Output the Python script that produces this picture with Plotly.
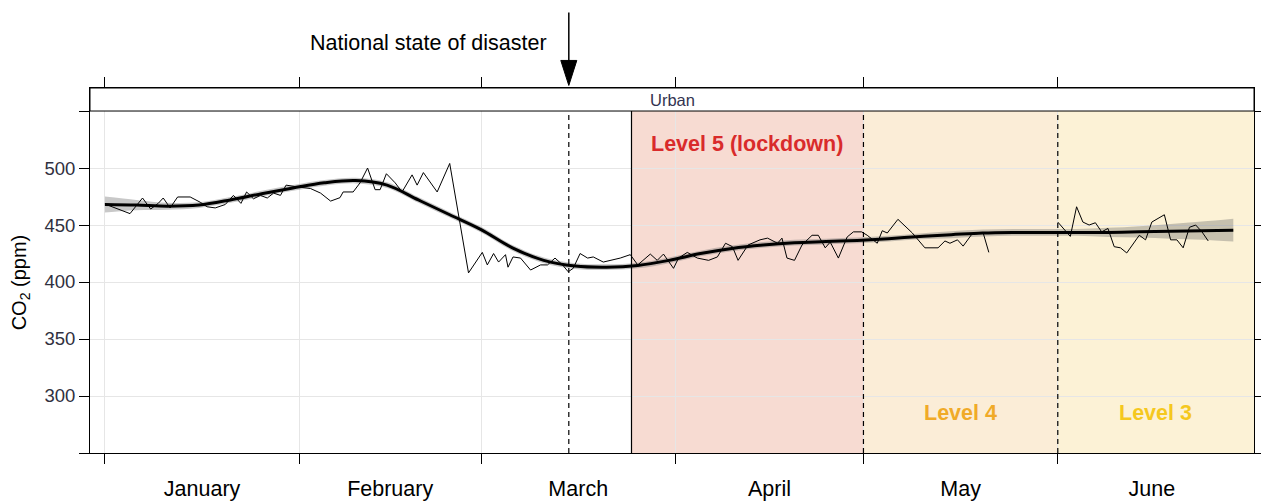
import pandas as pd
import plotly.graph_objects as go

BASE = pd.Timestamp("2020-01-01")

# ---------------- data (day offset from 1 Jan 2020, CO2 ppm) ----------------
raw_day = [0, 4, 6, 7.3, 8.5, 9.3, 10.4, 11.6, 13.6, 15.2, 16.3, 17.6, 19.2, 20.5, 21.7,
           22.6, 23.7, 24.8, 25.9, 26.9, 28, 28.9, 30, 31.2, 32.8, 34.4, 36, 37.5, 38,
           39.6, 40.7, 41.9, 43.1, 43.9, 44.9, 46.3, 47.4, 49, 49.8, 50.8, 53, 55, 58,
           60.2, 61, 62, 62.8, 63.9, 64.3, 65.1, 66.3, 67.9, 69.5, 70.6, 71.8, 73, 73.9,
           74.7, 75.8, 77, 77.9, 79.5, 80.6, 82.2, 83.8, 85, 87, 88.1, 89.1, 90.7, 91.5,
           92.9, 94.5, 96.3, 97.7, 99, 100.1, 101, 102.6, 104.5, 105.7, 107.3, 108, 108.8,
           110, 111.2, 112.8, 113.8, 114.9, 115.7, 117, 118.4, 119.4, 120.7, 121.6, 122.5,
           123.2, 124, 124.8, 126.5, 128.8, 130.8, 132.9, 134, 134.8, 136, 136.9, 138.3,
           140.1, 141, None, 152, 154, 155, 156, 157, 158, 159, 160, 161, 162, 163, 165,
           166, 167, 169, 170, 171, 172, 173, 174, 175, 176]
raw_co2 = [468.4, 460, 473.7, 464, 469, 473.7, 465, 474.6, 474.6, 470, 466, 465, 468, 476, 469,
           479, 473, 476, 473.7, 478, 476, 485, 484, 483, 482, 478, 471, 474, 479,
           479, 487, 500, 481, 481, 495, 487, 479, 494, 485, 496, 479, 504, 408,
           426, 415, 425, 417.5, 424, 413, 422, 421, 410.5, 415, 415, 421, 415, 409,
           412, 425, 421, 422, 417.5, 419, 421, 424, 415, 424.5, 419, 424.5, 412, 421,
           426, 421, 419, 422, 434, 431, 419, 432.5, 437, 438.5, 434, 438.5, 421,
           419, 432.5, 441, 441, 430, 435, 421, 439.5, 444, 444, 441, 437,
           434, 445, 443, 455, 443, 430, 430, 436, 434, 437, 431.5, 442,
           443, 426, None, 452.6, 440, 466, 452.6, 450, 452, 444, 447, 431, 430, 425.5, 441,
           437, 452.6, 459, 437, 437, 430, 448, 450, 444, 436]

smooth_day = [0, 5, 10, 15, 20, 25, 30, 35, 40, 45, 50, 55, 60, 65, 70, 75, 80, 85, 90,
              95, 100, 105, 110, 115, 120, 125, 130, 135, 140, 145, 150, 155, 160, 165,
              170, 175, 180]
smooth_co2 = [468, 467.5, 466.5, 467.5, 472, 477.5, 482.5, 487, 489, 485, 472, 459, 446,
              430, 419, 414, 413, 414.5, 419, 425, 429.5, 432.5, 434.5, 435.5, 436.5, 438,
              440, 441.5, 443, 443.5, 443.5, 443.5, 443.5, 444, 444.5, 445, 445.5]
smooth_halfband = [7, 4.5, 3, 2.5, 2.5, 2.5, 2.5, 2.5, 2.5, 2.5, 2.5, 2.5, 2.5, 2.5, 2.5,
                   2.5, 2.5, 2.5, 2.5, 2.5, 2.5, 2.5, 2.5, 2.5, 2.5, 2.5, 2.5, 3, 3, 3, 3,
                   3, 4, 5, 6.5, 8, 10]

level_names = ["Level 5 (lockdown)", "Level 4", "Level 3"]
level_start = ["2020-03-25", "2020-05-01", "2020-06-01"]
level_colors = ["#F7DBD2", "#FBEDD7", "#FCF2D6"]
level_text_colors = ["#D92B2B", "#F0AA28", "#F5C81E"]
level_label_y = [521, 285, 285]

disaster_date = "2020-03-15"
month_starts = list(pd.date_range("2020-01-01", "2020-06-01", freq="MS"))
panel_title = "Urban"
y_ticks = [300, 350, 400, 450, 500]

# --------------------------------------------------------------------------
def to_dates(days):
    return [None if d is None else BASE + pd.Timedelta(days=d) for d in days]

x_min = BASE + pd.Timedelta(days=-2.38)
x_max = BASE + pd.Timedelta(days=183.3)
Y0, Y1, YSTRIP = 250, 550, 570.2

sm_x = to_dates(smooth_day)
upper = [v + h for v, h in zip(smooth_co2, smooth_halfband)]
lower = [v - h for v, h in zip(smooth_co2, smooth_halfband)]

fig = go.Figure()
fig.add_trace(go.Scatter(x=sm_x, y=lower, mode="lines", line=dict(width=0, shape="spline"),
                         hoverinfo="skip"))
fig.add_trace(go.Scatter(x=sm_x, y=upper, mode="lines", line=dict(width=0, shape="spline"),
                         fill="tonexty", fillcolor="rgba(110,110,110,0.38)", hoverinfo="skip"))
fig.add_trace(go.Scatter(x=to_dates(raw_day), y=raw_co2, mode="lines",
                         line=dict(color="black", width=1), connectgaps=False))
fig.add_trace(go.Scatter(x=sm_x, y=smooth_co2, mode="lines",
                         line=dict(color="black", width=3, shape="spline")))
# invisible trace for the month-label axis
fig.add_trace(go.Scatter(x=[x_min], y=[300], xaxis="x2", mode="markers",
                         marker=dict(opacity=0), hoverinfo="skip"))

shapes = []
ends = level_start[1:] + [x_max]
for s, e, c in zip(level_start, ends, level_colors):
    shapes.append(dict(type="rect", xref="x", yref="y", x0=s, x1=e, y0=Y0, y1=Y1,
                       fillcolor=c, line=dict(width=0), layer="below"))
# lockdown start solid line
shapes.append(dict(type="line", xref="x", yref="y", x0=level_start[0], x1=level_start[0],
                   y0=Y0, y1=Y1, line=dict(color="black", width=1.2)))
for d in [disaster_date] + level_start[1:]:
    shapes.append(dict(type="line", xref="x", yref="y", x0=d, x1=d, y0=Y0, y1=Y1,
                       line=dict(color="black", width=1.2, dash="5px,4px")))
# strip
shapes.append(dict(type="rect", xref="paper", yref="y", x0=0, x1=1, y0=Y1, y1=YSTRIP,
                   fillcolor="white", line=dict(color="black", width=1), layer="above"))
# arrow pointing at the disaster date (pixel-sized, anchored to the date)
shapes.append(dict(type="line", xref="x", xsizemode="pixel", xanchor=disaster_date,
                   x0=0, x1=0, yref="paper", ysizemode="pixel", yanchor=1.007,
                   y0=20, y1=73, line=dict(color="black", width=1.5)))
shapes.append(dict(type="path", xref="x", xsizemode="pixel", xanchor=disaster_date,
                   yref="paper", ysizemode="pixel", yanchor=1.007,
                   path="M-8,25 L8,25 L0,0 Z", fillcolor="black",
                   line=dict(color="black", width=1)))

ann = []
ann.append(dict(x=0.5, xref="paper", y=(Y1 + YSTRIP) / 2, yref="y", text=panel_title,
                xanchor="center", yanchor="middle", showarrow=False,
                font=dict(size=16.5, family="Liberation Sans, Arial", color="#333350")))
for s, e, n, tc, ly in zip(level_start, ends, level_names, level_text_colors, level_label_y):
    mid = pd.Timestamp(s) + (pd.Timestamp(e) - pd.Timestamp(s)) / 2
    ann.append(dict(x=mid, xref="x", y=ly, yref="y", text="<b>%s</b>" % n, showarrow=False,
                    xanchor="center", yanchor="middle",
                    font=dict(size=21.5, family="Liberation Sans, Arial", color=tc)))
ann.append(dict(x=0.2906, xref="paper", y=1.123, yref="paper",
                text="National state of disaster", showarrow=False,
                xanchor="center", yanchor="middle",
                font=dict(size=21.5, family="Liberation Sans, Arial", color="black")))
ann.append(dict(x=-0.06, xref="paper", y=0.468, yref="paper", text="CO<sub>2</sub> (ppm)",
                textangle=-90, showarrow=False, xanchor="center", yanchor="middle",
                font=dict(size=20, family="Liberation Sans, Arial", color="black")))

fig.update_layout(
    width=1261, height=501,
    margin=dict(l=90, r=7, t=88, b=48, autoexpand=False),
    plot_bgcolor="white", paper_bgcolor="white",
    showlegend=False,
    shapes=shapes, annotations=ann,
    xaxis=dict(type="date", range=[x_min, x_max], tickmode="array", tickvals=month_starts,
               showticklabels=False, ticks="outside", ticklen=10,
               tickcolor="black", tickwidth=1, showline=True, linecolor="black",
               linewidth=1, mirror="ticks", showgrid=True, gridcolor="#E6E6E6",
               zeroline=False, automargin=False),
    xaxis2=dict(type="date", overlaying="x", side="bottom", anchor="y",
                range=[x_min, x_max], tickmode="linear", tick0="2020-01-01", dtick="M1",
                ticklabelmode="period", tickformat="%B", ticks="", showgrid=False,
                showline=False, zeroline=False, ticklabelstandoff=20, automargin=False,
                tickfont=dict(size=21.5, family="Liberation Sans, Arial", color="black")),
    yaxis=dict(range=[Y0, YSTRIP], tickmode="array", tickvals=y_ticks,
               ticks="outside", ticklen=10, tickcolor="black", showline=True,
               linecolor="black", linewidth=1, mirror="ticks", showgrid=True,
               gridcolor="#E6E6E6", zeroline=False, automargin=False,
               minor=dict(tickmode="array", tickvals=[Y0, Y1], ticks="outside", ticklen=10,
                          tickcolor="black", showgrid=False),
               tickfont=dict(size=18.5, family="Liberation Sans Narrow, Arial Narrow, Arial",
                             color="#303040")),
)

fig.write_html("out.html")
